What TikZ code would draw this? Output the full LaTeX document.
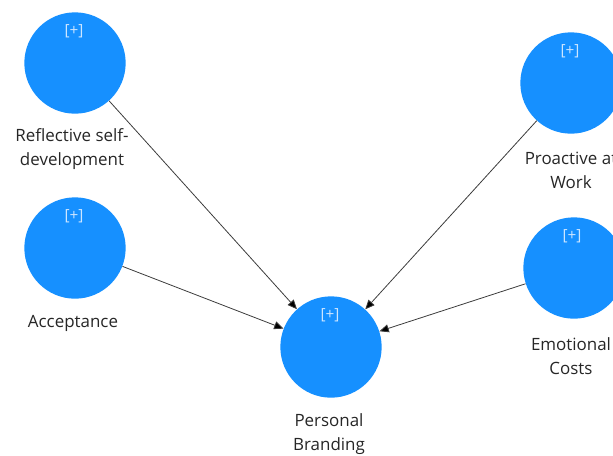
\documentclass[tikz,border=0pt]{standalone}
\usepackage{fontspec}
\setmainfont{Open Sans}
\usetikzlibrary{arrows.meta}
\definecolor{lvblue}{RGB}{22,144,255}
\definecolor{plus}{RGB}{205,230,255}
\definecolor{edge}{RGB}{60,60,60}
\tikzset{
  lv/.style={circle,fill=lvblue,draw=none,minimum size=76pt,inner sep=0pt},
  plustext/.style={text=plus,font=\fontsize{11.5}{13}\selectfont},
  lbl/.style={font=\fontsize{12.7}{18}\selectfont,text=black!85,align=center,inner sep=0pt},
  path/.style={draw=edge,line width=0.6pt,-{Triangle[length=7pt,width=6pt,fill=black]}}
}
\begin{document}
\begin{tikzpicture}[x=0.75pt,y=-0.75pt]
\useasboundingbox (0,0) rectangle (613,455);
\node[lv] (rsd) at (75,63) {};
\node[lv] (acc) at (75,248) {};
\node[lv] (pb) at (331,347) {};
\node[lv] (paw) at (571,83) {};
\node[lv] (ec) at (574,268) {};
\node[plustext] (p1) at (74,31) {[+]};
\node[plustext] (p2) at (74,216) {[+]};
\node[plustext] (p3) at (330,315) {[+]};
\node[plustext] (p4) at (570,51) {[+]};
\node[plustext] (p5) at (572,236) {[+]};
\node[lbl] (l1) at (72,149) {Reflective self-\\development};
\node[lbl] (l2) at (73,323) {Acceptance};
\node[lbl] (l3) at (329,434) {Personal\\Branding};
\node[lbl] (l4) at (571,170) {Proactive at\\Work};
\node[lbl] (l5) at (571,356) {Emotional\\Costs};
\draw[path] (rsd) -- (pb);
\draw[path] (acc) -- (pb);
\draw[path] (paw) -- (pb);
\draw[path] (ec) -- (pb);
\end{tikzpicture}
\end{document}
